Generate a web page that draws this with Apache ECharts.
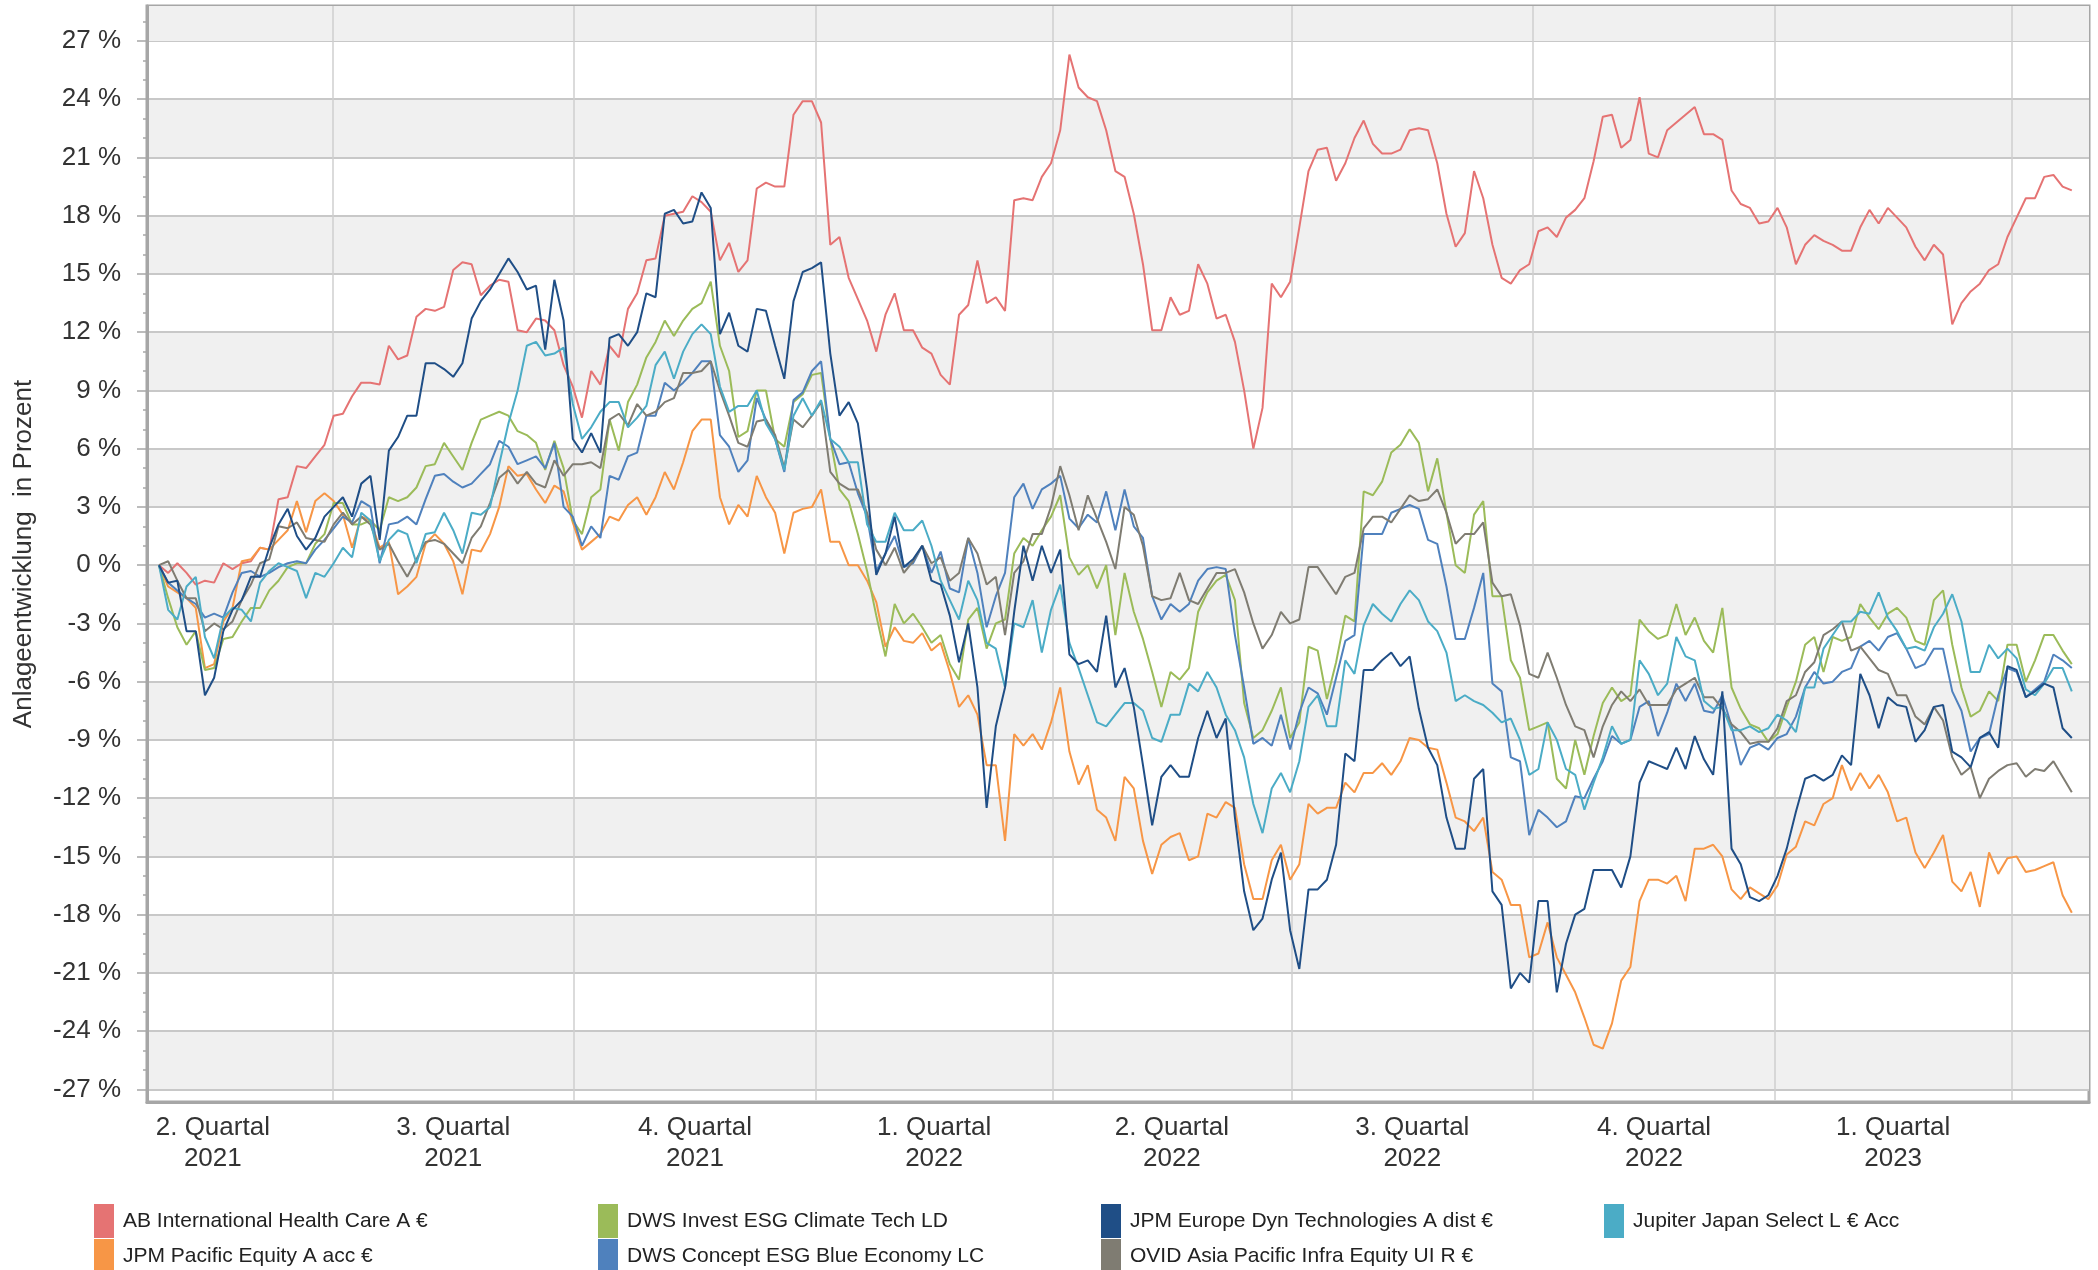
<!DOCTYPE html>
<html>
<head>
<meta charset="utf-8">
<title>Anlageentwicklung</title>
<script src="https://cdn.jsdelivr.net/npm/echarts@6/dist/echarts.min.js"></script>
<style>
  html, body { margin: 0; padding: 0; background: #fff; }
  #chart { width: 2098px; height: 1270px; }
</style>
</head>
<body>
<div id="chart"></div>
<script>
// Stützstellen alle 3,5 Tage (Mo / Do), erste am 26.04.2021
var startDate = '2021-04-26';
var stepDays = 3.5;

var fundNames = [
  'AB International Health Care A €',
  'JPM Pacific Equity A acc €',
  'DWS Invest ESG Climate Tech LD',
  'DWS Concept ESG Blue Economy LC',
  'JPM Europe Dyn Technologies A dist €',
  'OVID Asia Pacific Infra Equity UI R €',
  'Jupiter Japan Select L € Acc'
];
var fundColors = ['#e57373', '#f79646', '#9bbb59', '#4f81bd', '#1f4e86', '#7f7c72', '#4bacc6'];

// Wertentwicklung in %
var abHealth = [
  0, -0.4, 0.1, -0.4, -1.0, -0.8, -0.9, 0.1, -0.2, 0.1,
  0.2, 0.9, 0.8, 3.4, 3.5, 5.1, 5.0, 5.6, 6.2, 7.7,
  7.8, 8.7, 9.4, 9.4, 9.3, 11.3, 10.6, 10.8, 12.8, 13.2,
  13.1, 13.3, 15.2, 15.6, 15.5, 13.9, 14.4, 14.7, 14.6, 12.1,
  12.0, 12.7, 12.6, 12.1, 10.3, 9.2, 7.6, 10.0, 9.3, 11.3,
  10.7, 13.2, 14.0, 15.7, 15.8, 18.0, 18.1, 18.2, 19.0, 18.7,
  18.2, 15.7, 16.6, 15.1, 15.7, 19.4, 19.7, 19.5, 19.5, 23.2,
  23.9, 23.9, 22.8, 16.5, 16.9, 14.8, 13.7, 12.6, 11.0, 12.9,
  14.0, 12.1, 12.1, 11.2, 10.9, 9.8, 9.3, 12.9, 13.4, 15.7,
  13.5, 13.8, 13.1, 18.8, 18.9, 18.8, 20.0, 20.7, 22.4, 26.3,
  24.6, 24.1, 23.9, 22.4, 20.3, 20.0, 18.1, 15.5, 12.1, 12.1,
  13.8, 12.9, 13.1, 15.5, 14.5, 12.7, 12.9, 11.5, 9.0, 6.0,
  8.1, 14.5, 13.8, 14.6, 17.4, 20.3, 21.4, 21.5, 19.8, 20.7,
  22.0, 22.9, 21.7, 21.2, 21.2, 21.4, 22.4, 22.5, 22.4, 20.7,
  18.1, 16.4, 17.1, 20.3, 18.9, 16.5, 14.8, 14.5, 15.2, 15.5,
  17.2, 17.4, 16.9, 17.9, 18.3, 18.9, 20.8, 23.1, 23.2, 21.5,
  21.9, 24.1, 21.2, 21.0, 22.4, 22.8, 23.2, 23.6, 22.2, 22.2,
  21.9, 19.3, 18.6, 18.4, 17.6, 17.7, 18.4, 17.4, 15.5, 16.5,
  17.0, 16.7, 16.5, 16.2, 16.2, 17.4, 18.3, 17.6, 18.4, 17.9,
  17.4, 16.4, 15.7, 16.5, 16.0, 12.4, 13.5, 14.1, 14.5, 15.2,
  15.5, 16.9, 17.9, 18.9, 18.9, 20.0, 20.1, 19.5, 19.3];
var jpmPacific = [
  0, -1.1, -1.4, -1.7, -2.2, -5.3, -5.1, -2.9, -2.2, 0.2,
  0.3, 0.9, 0.8, 1.3, 1.8, 3.3, 1.7, 3.3, 3.7, 3.3,
  2.6, 0.9, 2.5, 2.3, 0.9, 1.2, -1.5, -1.1, -0.6, 1.1,
  1.6, 1.1, 0.2, -1.5, 0.8, 0.7, 1.6, 3.0, 5.1, 4.6,
  4.7, 3.9, 3.2, 4.1, 3.8, 2.2, 0.8, 1.2, 1.6, 2.5,
  2.3, 3.1, 3.5, 2.6, 3.5, 4.8, 3.9, 5.3, 6.9, 7.5,
  7.5, 3.5, 2.1, 3.1, 2.5, 4.6, 3.5, 2.7, 0.6, 2.7,
  2.9, 3.0, 3.9, 1.2, 1.2, 0.0, 0.0, -0.8, -1.9, -4.2,
  -3.2, -3.9, -4.0, -3.5, -4.4, -4.0, -5.5, -7.3, -6.7, -7.7,
  -10.3, -10.3, -14.2, -8.7, -9.3, -8.7, -9.5, -8.1, -6.3, -9.6,
  -11.3, -10.3, -12.6, -13.0, -14.2, -10.9, -11.5, -14.2, -15.9, -14.4,
  -14.0, -13.8, -15.2, -15.0, -12.8, -13.0, -12.2, -12.5, -15.4, -17.2,
  -17.2, -15.2, -14.4, -16.2, -15.4, -12.3, -12.8, -12.5, -12.5, -11.2,
  -11.7, -10.7, -10.7, -10.2, -10.8, -10.1, -8.9, -9.0, -9.4, -9.5,
  -11.2, -13.0, -13.2, -13.7, -13.0, -15.8, -16.2, -17.5, -17.5, -20.2,
  -20.0, -18.4, -20.2, -21.1, -22.0, -23.3, -24.7, -24.9, -23.6, -21.4,
  -20.7, -17.3, -16.2, -16.2, -16.4, -16.0, -17.3, -14.6, -14.6, -14.4,
  -15.0, -16.7, -17.2, -16.6, -16.9, -17.2, -16.5, -14.9, -14.5, -13.2,
  -13.4, -12.3, -12.0, -10.3, -11.6, -10.7, -11.5, -10.8, -11.7, -13.2,
  -13.0, -14.8, -15.6, -14.8, -13.9, -16.3, -16.8, -15.8, -17.6, -14.8,
  -15.9, -15.1, -15.0, -15.8, -15.7, -15.5, -15.3, -17.0, -17.9];
var dwsClimate = [
  0, -1.7, -3.2, -4.1, -3.4, -5.4, -5.3, -3.8, -3.7, -2.9,
  -2.2, -2.2, -1.3, -0.8, -0.1, 0.1, 0.1, 1.1, 1.6, 3.2,
  3.2, 2.1, 2.1, 2.3, 1.8, 3.5, 3.3, 3.5, 4.0, 5.1,
  5.2, 6.3, 5.6, 4.9, 6.3, 7.5, 7.7, 7.9, 7.7, 6.9,
  6.7, 6.3, 4.9, 6.4, 5.0, 2.3, 1.6, 3.5, 3.9, 7.5,
  5.9, 8.4, 9.3, 10.7, 11.5, 12.6, 11.8, 12.6, 13.2, 13.5,
  14.6, 11.3, 10.0, 6.6, 6.9, 9.0, 9.0, 6.5, 6.1, 8.4,
  8.8, 9.8, 9.9, 6.5, 3.9, 3.3, 1.6, -0.3, -2.6, -4.7,
  -2.0, -3.0, -2.5, -3.2, -4.0, -3.6, -5.1, -5.9, -2.8, -2.2,
  -4.3, -3.0, -2.8, 0.6, 1.4, 1.0, 1.8, 2.5, 3.6, 0.4,
  -0.5, 0.0, -1.2, 0.0, -3.6, -0.4, -2.4, -3.8, -5.5, -7.3,
  -5.5, -5.9, -5.3, -2.4, -1.4, -0.8, -0.5, -1.8, -7.1, -8.9,
  -8.5, -7.5, -6.3, -8.9, -8.1, -4.2, -4.4, -6.9, -5.0, -2.6,
  -2.9, 3.8, 3.6, 4.3, 5.8, 6.2, 7.0, 6.3, 3.8, 5.5,
  2.7, 0.0, -0.4, 2.6, 3.3, -1.6, -1.6, -4.9, -5.8, -8.5,
  -8.3, -8.1, -11.0, -11.5, -9.0, -10.8, -8.8, -7.1, -6.3, -7.0,
  -6.7, -2.8, -3.4, -3.8, -3.6, -2.0, -3.6, -2.7, -3.9, -4.5,
  -2.2, -6.3, -7.4, -8.2, -8.4, -9.1, -8.7, -7.3, -6.0, -4.1,
  -3.7, -5.5, -3.7, -3.9, -3.7, -2.0, -2.7, -3.3, -2.5, -2.2,
  -2.7, -3.9, -4.1, -1.8, -1.3, -4.1, -6.3, -7.8, -7.5, -6.5,
  -7.0, -4.1, -4.1, -6.0, -4.9, -3.6, -3.6, -4.4, -5.1];
var dwsBlue = [
  0, -0.9, -1.3, -1.7, -2.0, -2.7, -2.5, -2.7, -1.4, -0.4,
  -0.3, -0.6, -0.4, -0.1, 0.1, 0.2, 0.1, 0.8, 1.3, 1.9,
  2.5, 2.2, 3.3, 3.0, 0.1, 2.1, 2.2, 2.5, 2.1, 3.4,
  4.6, 4.7, 4.3, 4.0, 4.2, 4.7, 5.2, 6.4, 6.1, 5.2,
  5.4, 5.6, 5.0, 6.3, 3.0, 2.5, 1.0, 2.0, 1.4, 4.6,
  4.4, 5.6, 5.8, 7.7, 7.7, 9.4, 9.0, 9.4, 9.9, 10.5,
  10.5, 6.7, 6.1, 4.8, 5.4, 8.6, 7.5, 6.5, 4.8, 8.5,
  8.9, 10.0, 10.5, 6.5, 5.2, 5.3, 3.7, 2.5, -0.3, 0.6,
  1.5, -0.1, 0.1, 1.0, -0.4, 0.7, -1.2, -1.4, 1.4, -0.4,
  -3.2, -1.6, -0.4, 3.5, 4.2, 2.9, 3.9, 4.2, 4.6, 2.4,
  1.9, 2.6, 2.2, 3.8, 1.8, 3.9, 2.0, 1.4, -1.6, -2.8,
  -2.0, -2.4, -2.0, -0.8, -0.2, -0.1, -0.2, -3.6, -6.3, -9.2,
  -8.9, -9.3, -7.7, -9.5, -7.6, -6.3, -6.6, -7.7, -5.8, -3.9,
  -3.6, 1.6, 1.6, 1.6, 2.7, 2.9, 3.1, 2.9, 1.3, 1.1,
  -1.1, -3.8, -3.8, -2.2, -0.4, -6.1, -6.5, -9.9, -10.1, -13.9,
  -12.6, -13.0, -13.5, -13.2, -11.9, -12.0, -11.0, -10.1, -8.8, -9.2,
  -9.0, -7.3, -7.0, -8.8, -7.6, -6.1, -7.0, -6.1, -7.5, -7.6,
  -6.7, -8.3, -10.3, -9.4, -9.2, -9.5, -8.9, -8.7, -7.8, -6.3,
  -5.5, -6.1, -6.0, -5.5, -5.3, -4.2, -3.9, -4.4, -3.7, -3.5,
  -4.3, -5.3, -5.1, -4.3, -4.3, -6.5, -7.5, -9.6, -8.9, -8.7,
  -6.7, -5.3, -5.5, -6.8, -6.4, -6.0, -4.6, -4.9, -5.3];
var jpmEurope = [
  0, -0.9, -0.8, -3.4, -3.4, -6.7, -5.8, -3.4, -2.3, -1.8,
  -0.6, -0.6, 0.9, 2.1, 2.9, 1.5, 0.8, 1.4, 2.5, 3.0,
  3.5, 2.5, 4.2, 4.6, 1.3, 5.9, 6.6, 7.7, 7.7, 10.4,
  10.4, 10.1, 9.7, 10.4, 12.7, 13.6, 14.2, 15.0, 15.8, 15.1,
  14.2, 14.4, 11.1, 14.7, 12.6, 6.5, 5.8, 6.8, 5.8, 11.7,
  11.9, 11.3, 12.0, 14.0, 13.8, 18.1, 18.3, 17.6, 17.7, 19.2,
  18.4, 11.9, 13.0, 11.3, 11.0, 13.2, 13.1, 11.3, 9.6, 13.6,
  15.1, 15.3, 15.6, 10.9, 7.7, 8.4, 7.3, 3.9, -0.5, 0.6,
  2.5, -0.1, 0.3, 1.0, -0.8, -1.0, -2.6, -5.0, -3.0, -6.3,
  -12.5, -8.3, -6.3, -2.4, 1.0, -0.8, 1.0, -0.4, 0.8, -4.6,
  -5.1, -4.9, -5.5, -2.6, -6.3, -5.3, -7.3, -10.3, -13.4, -10.9,
  -10.3, -10.9, -10.9, -8.9, -7.5, -8.9, -7.9, -13.0, -16.8, -18.8,
  -18.2, -16.2, -14.8, -18.8, -20.8, -16.7, -16.7, -16.2, -14.4, -9.7,
  -10.1, -5.4, -5.4, -4.9, -4.5, -5.2, -4.7, -7.4, -9.4, -10.3,
  -13.0, -14.6, -14.6, -11.0, -10.5, -16.8, -17.5, -21.8, -21.0, -21.5,
  -17.3, -17.3, -22.0, -19.5, -18.0, -17.7, -15.7, -15.7, -15.7, -16.6,
  -15.0, -11.2, -10.1, -10.3, -10.5, -9.4, -10.5, -8.8, -10.0, -10.8,
  -6.5, -14.6, -15.4, -17.1, -17.3, -17.0, -16.0, -14.6, -12.7, -11.0,
  -10.8, -11.1, -10.8, -9.8, -10.3, -5.6, -6.7, -8.4, -6.8, -7.2,
  -7.3, -9.1, -8.5, -7.3, -7.2, -9.6, -9.9, -10.4, -8.9, -8.6,
  -9.4, -5.2, -5.4, -6.8, -6.5, -6.1, -6.3, -8.4, -8.9];
var ovidAsia = [
  0, 0.2, -0.8, -1.7, -1.7, -3.4, -3.0, -3.3, -2.9, -1.8,
  -1.0, 0.1, 0.3, 2.0, 1.9, 2.2, 1.4, 1.3, 1.2, 2.1,
  2.7, 2.1, 2.5, 2.1, 0.8, 1.1, 0.2, -0.6, 0.3, 1.2,
  1.3, 1.1, 0.6, 0.1, 1.4, 2.0, 3.2, 4.5, 4.9, 4.2,
  4.8, 4.2, 4.0, 5.4, 4.6, 5.2, 5.2, 5.3, 5.0, 7.5,
  7.8, 7.2, 8.3, 7.7, 7.9, 8.4, 8.6, 9.9, 9.9, 10.0,
  10.5, 9.0, 7.7, 6.3, 6.1, 7.4, 7.5, 6.7, 5.0, 7.5,
  7.1, 7.7, 8.4, 4.8, 4.2, 3.9, 3.9, 2.7, 0.8, 0.0,
  0.9, -0.4, 0.2, 1.0, 0.1, 0.4, -0.8, -0.4, 1.4, 0.6,
  -1.0, -0.6, -3.6, -0.4, 0.2, 1.6, 1.6, 3.0, 5.1, 3.6,
  1.8, 3.6, 2.4, 1.2, -0.2, 3.0, 2.6, 1.0, -1.6, -1.8,
  -1.7, -0.4, -1.8, -2.0, -1.2, -0.4, -0.4, -0.2, -1.4, -3.0,
  -4.3, -3.6, -2.4, -3.0, -2.8, -0.1, -0.1, -0.8, -1.5, -0.6,
  -0.4, 1.9, 2.5, 2.5, 2.2, 2.9, 3.6, 3.3, 3.4, 3.9,
  2.7, 1.1, 1.6, 1.6, 2.2, -0.9, -1.6, -1.5, -3.1, -5.6,
  -5.8, -4.5, -5.8, -7.2, -8.3, -8.5, -9.9, -8.3, -7.2, -6.5,
  -7.0, -6.4, -7.2, -7.2, -7.2, -6.4, -6.1, -5.8, -6.8, -6.8,
  -7.4, -8.2, -8.6, -9.2, -9.1, -9.1, -8.4, -7.0, -6.7, -5.5,
  -5.0, -3.6, -3.3, -2.9, -4.4, -4.2, -4.8, -5.4, -5.6, -6.7,
  -6.7, -7.8, -8.2, -7.3, -8.0, -9.9, -10.8, -10.4, -12.0, -11.0,
  -10.6, -10.3, -10.2, -10.9, -10.5, -10.6, -10.1, -10.9, -11.7];
var jupiterJapan = [
  0, -2.3, -2.8, -1.1, -0.6, -3.7, -4.8, -2.7, -2.2, -2.3,
  -2.9, -0.9, -0.3, 0.1, -0.1, -0.3, -1.7, -0.4, -0.6, 0.1,
  0.9, 0.4, 2.7, 2.3, 0.2, 1.3, 1.8, 1.6, 0.1, 1.6,
  1.7, 2.7, 1.8, 0.6, 2.7, 2.6, 3.0, 5.2, 7.3, 9.0,
  11.3, 11.5, 10.8, 10.9, 11.2, 8.3, 6.5, 7.1, 7.9, 8.4,
  8.4, 7.1, 7.6, 8.2, 10.3, 11.0, 9.6, 11.0, 11.9, 12.4,
  11.9, 9.2, 7.9, 8.2, 8.2, 9.0, 7.3, 6.5, 4.9, 7.7,
  8.6, 7.7, 8.5, 6.5, 6.1, 5.3, 5.3, 2.1, 1.2, 1.2,
  2.7, 1.8, 1.8, 2.3, 1.0, -0.8, -1.8, -2.8, -0.8, -1.8,
  -4.0, -4.3, -6.3, -3.0, -3.2, -1.8, -4.5, -2.3, -1.0, -4.0,
  -5.3, -6.7, -8.1, -8.3, -7.7, -7.1, -7.1, -7.5, -8.9, -9.1,
  -7.7, -7.7, -6.1, -6.5, -5.5, -6.3, -7.7, -8.5, -9.9, -12.3,
  -13.8, -11.5, -10.7, -11.7, -10.1, -7.3, -6.7, -8.3, -8.3, -4.9,
  -5.6, -3.1, -2.0, -2.5, -2.9, -2.0, -1.3, -1.8, -2.9, -3.4,
  -4.5, -7.0, -6.7, -7.0, -7.2, -7.6, -8.1, -7.9, -9.0, -10.8,
  -10.5, -8.1, -9.0, -10.5, -10.8, -12.6, -11.2, -9.9, -8.3, -9.2,
  -9.0, -4.9, -5.6, -6.7, -6.1, -3.7, -4.7, -4.9, -7.0, -7.4,
  -7.3, -8.5, -8.5, -8.3, -8.6, -8.4, -7.7, -8.0, -8.6, -6.3,
  -6.3, -4.3, -3.6, -2.9, -2.9, -2.4, -2.5, -1.4, -2.7, -3.4,
  -4.3, -4.2, -4.4, -3.2, -2.5, -1.5, -2.9, -5.5, -5.5, -4.1,
  -4.8, -4.3, -4.8, -6.4, -6.7, -6.1, -5.3, -5.3, -6.5];

var fundValues = [abHealth, jpmPacific, dwsClimate, dwsBlue, jpmEurope, ovidAsia, jupiterJapan];

// Achsen
var quarterStarts = ['2021-04-01', '2021-07-01', '2021-10-01', '2022-01-01', '2022-04-01',
  '2022-07-01', '2022-10-01', '2023-01-01', '2023-04-01'];
var quarterLabels = ['2. Quartal\n2021', '3. Quartal\n2021', '4. Quartal\n2021', '1. Quartal\n2022',
  '2. Quartal\n2022', '3. Quartal\n2022', '4. Quartal\n2022', '1. Quartal\n2023'];
var yTickValues = [-27, -24, -21, -18, -15, -12, -9, -6, -3, 0, 3, 6, 9, 12, 15, 18, 21, 24, 27];
var yMinorValues = [-27, -26, -25, -24, -23, -22, -21, -20, -19, -18, -17, -16, -15, -14, -13, -12, -11, -10, -9, -8,
  -7, -6, -5, -4, -3, -2, -1, 0, 1, 2, 3, 4, 5, 6, 7, 8, 9, 10, 11, 12, 13, 14, 15, 16, 17, 18, 19, 20, 21, 22,
  23, 24, 25, 26, 27, 28];
var yMin = -27.65, yMax = 28.8;
var xMin = '2021-04-21T10:48:00Z', xMax = '2023-04-30T13:00:00Z';

function utc(s) {
  return s.length > 10 ? Date.parse(s) : Date.parse(s + 'T00:00:00Z');
}

var DAY = 86400000;
var dates = abHealth.map(function (v, i) {
  return utc(startDate) + i * stepDays * DAY;
});

var quarterLines = quarterStarts.slice(1).map(utc);
var quarterMids = [];
for (var q = 0; q < quarterLabels.length; q++) {
  quarterMids.push((utc(quarterStarts[q]) + utc(quarterStarts[q + 1])) / 2);
}

var fontFam = 'Liberation Sans, Arial, sans-serif';
var textCol = '#333333';

var series = fundNames.map(function (name, k) {
  return {
    name: name,
    type: 'line',
    showSymbol: false,
    symbol: 'none',
    data: fundValues[k].map(function (v, j) { return [dates[j], v]; }),
    lineStyle: { width: 2, color: fundColors[k] },
    itemStyle: { color: fundColors[k] },
    z: k === 4 ? 4 : 3
  };
});

// Legende in vier Spalten
var legendColumns = [[0, 1], [2, 3], [4, 5], [6]];
var legendLefts = [94, 598, 1101, 1604];
var legends = legendColumns.map(function (col, c) {
  return {
    orient: 'vertical',
    left: legendLefts[c],
    top: 1204,
    height: 80,
    padding: 0,
    itemGap: 1,
    itemWidth: 20,
    itemHeight: 34,
    icon: 'rect',
    selectedMode: false,
    data: col.map(function (k) { return fundNames[k]; }),
    textStyle: { fontSize: 21, color: '#222222', fontFamily: fontFam, padding: [0, 0, 0, 4] }
  };
});

var chart = echarts.init(document.getElementById('chart'), null, { renderer: 'canvas' });
chart.setOption({
  animation: false,
  backgroundColor: '#ffffff',
  color: fundColors,
  legend: legends,
  grid: {
    left: 147, top: 6, right: 9, bottom: 168,
    show: true,
    borderColor: '#a6a6a6',
    borderWidth: 3,
    backgroundColor: 'transparent'
  },
  xAxis: {
    type: 'value',
    min: utc(xMin),
    max: utc(xMax),
    axisLine: { show: true, onZero: false, lineStyle: { color: '#a6a6a6', width: 3 } },
    axisTick: { show: false, customValues: quarterLines },
    splitLine: { show: true, lineStyle: { color: '#cfcfcf', width: 1.5 } },
    axisLabel: {
      customValues: quarterMids,
      margin: 10,
      fontSize: 26,
      lineHeight: 31,
      color: textCol,
      fontFamily: fontFam,
      formatter: function (v) {
        var best = 0;
        for (var m = 1; m < quarterMids.length; m++) {
          if (Math.abs(quarterMids[m] - v) < Math.abs(quarterMids[best] - v)) best = m;
        }
        return quarterLabels[best];
      }
    }
  },
  yAxis: [{
    type: 'value',
    min: yMin, max: yMax,
    name: 'Anlageentwicklung  in Prozent',
    nameLocation: 'middle',
    nameGap: 110,
    nameTextStyle: { fontSize: 26, color: textCol, fontFamily: fontFam },
    axisLine: { show: true, onZero: false, lineStyle: { color: '#a6a6a6', width: 3 } },
    axisTick: { show: true, length: 10, customValues: yTickValues, lineStyle: { color: '#a6a6a6', width: 1.5 } },
    axisLabel: {
      customValues: yTickValues, margin: 26, fontSize: 26, color: textCol, fontFamily: fontFam,
      formatter: function (v) { return Math.round(v) + ' %'; }
    },
    splitLine: { show: true, lineStyle: { color: '#c8c8c8', width: 2 } },
    splitArea: { show: true, areaStyle: { color: ['#f0f0f0', '#ffffff'] } }
  }, {
    type: 'value',
    min: yMin, max: yMax,
    position: 'left',
    axisLine: { show: false, onZero: false },
    axisTick: { show: true, length: 4, customValues: yMinorValues, lineStyle: { color: '#a6a6a6', width: 1.5 } },
    axisLabel: { show: false },
    splitLine: { show: false }
  }, {
    type: 'value',
    min: yMin, max: yMax,
    position: 'left',
    axisLine: { show: false, onZero: false },
    axisTick: { show: false, customValues: [27, yMax] },
    axisLabel: { show: false },
    splitLine: { show: false },
    splitArea: { show: true, areaStyle: { color: ['#f0f0f0'] } }
  }],
  series: series
});
</script>
</body>
</html>
